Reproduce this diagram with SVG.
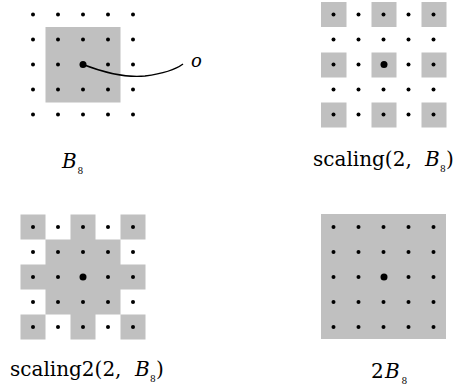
<svg xmlns="http://www.w3.org/2000/svg" width="455" height="392" viewBox="0 0 455 392">
<style>
.g{fill:#c0c0c0}
.d{fill:#000}
.lbl{font-family:"DejaVu Serif",serif;font-size:20px;fill:#000}
.it{font-style:italic}
.sub{font-size:9px}
</style>
<defs>
<circle id="dot" r="2" class="d"/>
<g id="row">
<use href="#dot" x="0"/><use href="#dot" x="25"/><use href="#dot" x="50"/><use href="#dot" x="75"/><use href="#dot" x="100"/>
</g>
<g id="grid">
<use href="#row" y="0"/><use href="#row" y="25"/><use href="#row" y="50"/><use href="#row" y="75"/><use href="#row" y="100"/>
</g>
</defs>
<rect width="455" height="392" fill="#fff"/>

<g id="B8">
<rect class="g" x="45.5" y="27" width="75" height="75.5"/>
<use href="#grid" x="33" y="14.5"/>
<circle class="d" cx="83" cy="64.5" r="3.5"/>
<text class="lbl it" x="62" y="168">B</text>
<text class="lbl sub" x="77.5" y="174">8</text>
</g>

<g id="origin-label">
<text class="lbl it" x="191" y="67" style="font-size:18px">o</text>
</g>

<g id="scaling">
<rect class="g" x="321" y="2" width="25.5" height="25"/>
<rect class="g" x="371.5" y="2" width="25" height="25"/>
<rect class="g" x="421.5" y="2" width="25" height="25"/>
<rect class="g" x="321" y="52.5" width="25.5" height="25"/>
<rect class="g" x="371.5" y="52.5" width="25" height="25"/>
<rect class="g" x="421.5" y="52.5" width="25" height="25"/>
<rect class="g" x="321" y="102.5" width="25.5" height="25"/>
<rect class="g" x="371.5" y="102.5" width="25" height="25"/>
<rect class="g" x="421.5" y="102.5" width="25" height="25"/>
<use href="#grid" x="333.5" y="14.5"/>
<circle class="d" cx="384" cy="64.5" r="3.5"/>
<text class="lbl" x="313" y="166">scaling(2,</text>
<text class="lbl it" x="425" y="166">B</text>
<text class="lbl sub" x="440" y="172">8</text>
<text class="lbl" x="446" y="166">)</text>
</g>

<g id="scaling2">
<path class="g" d="M20.5,214.5 H45.5 V239.5 H70.5 V214.5 H95.5 V239.5 H120.5 V214.5 H145.5 V239.5 H120.5 V264.5 H145.5 V289.5 H120.5 V314.5 H145.5 V339.5 H120.5 V314.5 H95.5 V339.5 H70.5 V314.5 H45.5 V339.5 H20.5 V314.5 H45.5 V289.5 H20.5 V264.5 H45.5 V239.5 H20.5 Z"/>
<use href="#grid" x="33" y="227"/>
<circle class="d" cx="83" cy="277" r="3.5"/>
<text class="lbl" x="10" y="376">scaling2(2,</text>
<text class="lbl it" x="135" y="376">B</text>
<text class="lbl sub" x="150" y="382">8</text>
<text class="lbl" x="156" y="376">)</text>
</g>

<g id="twoB8">
<rect class="g" x="321" y="214" width="125" height="125"/>
<use href="#grid" x="333.5" y="227"/>
<circle class="d" cx="384" cy="277" r="3.5"/>
<text class="lbl" x="371" y="378">2</text>
<text class="lbl it" x="385" y="378">B</text>
<text class="lbl sub" x="401.5" y="384">8</text>
</g>

<g id="connectors">
<path d="M83,64.5 C105,73 125,78 145,76 C160,74 175,70 183,64" fill="none" stroke="#000" stroke-width="1.4"/>
</g>
</svg>
